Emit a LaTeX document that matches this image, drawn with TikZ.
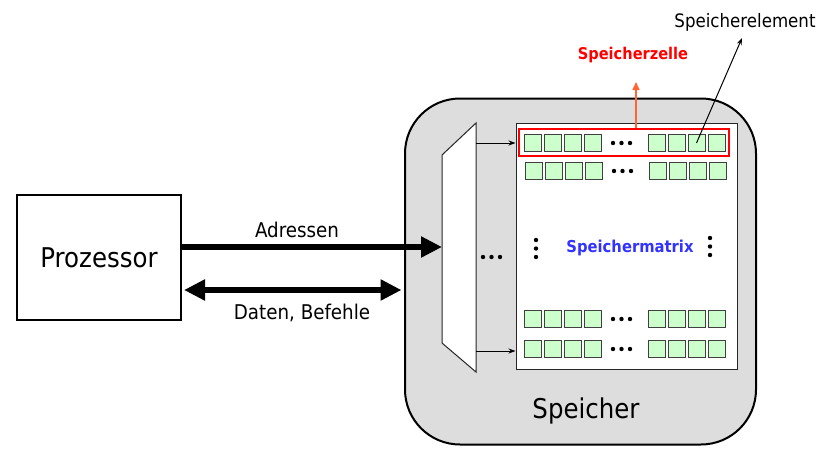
\documentclass[tikz,border=0pt]{standalone}
\usepackage{fontspec}
\setmainfont{DejaVu Sans}[FakeStretch=0.9]
\usetikzlibrary{arrows.meta,calc}
\definecolor{memgray}{HTML}{DDDDDD}
\definecolor{cellgreen}{HTML}{CCFFCC}
\definecolor{celledge}{HTML}{404040}
\definecolor{zellred}{HTML}{FF0000}
\definecolor{zellorange}{HTML}{FF6633}
\definecolor{matblue}{HTML}{3333FF}
\tikzset{bushead/.tip={Triangle[length=21pt,width=20pt]}}
\begin{document}
\begin{tikzpicture}[x=1pt,y=-1pt,
  cell/.style={draw=celledge,fill=cellgreen,line width=1pt,minimum width=17pt,minimum height=17pt,inner sep=0pt},
  bigtext/.style={font=\fontsize{27.2}{31}\selectfont},
  midtext/.style={font=\fontsize{20.3}{24}\selectfont},
  dotmark/.style={fill=black,draw=none,circle,minimum size=4.4pt,inner sep=0pt},
  busarrow/.style={line width=6pt},
  thinarrow/.style={line width=1pt,-{Stealth[length=7pt,width=5pt]}}
]
\useasboundingbox (0,0) rectangle (835,461);

% Processor
\node[draw,line width=2pt,minimum width=164pt,minimum height=125pt,inner sep=0pt,bigtext] (proc) at (99,257.5) {Prozessor};

% Memory
\node[draw,line width=2pt,fill=memgray,rounded corners=55pt,minimum width=351pt,minimum height=346pt,inner sep=0pt] (mem) at (580.5,271.5) {};
\node[bigtext] (memlbl) at (586,411) {Speicher};

% Multiplexer
\coordinate (m1) at (442,155);
\coordinate (m2) at (476,123);
\coordinate (m3) at (476,372);
\coordinate (m4) at (442,343);
\draw[fill=white,draw=black!85,line width=1pt] (m1)--(m2)--(m3)--(m4)--cycle;
\coordinate (muxin) at (442,247);
\node[dotmark] (md1) at (483,257) {};
\node[dotmark] (md2) at (491.5,257) {};
\node[dotmark] (md3) at (500,257) {};

% Matrix
\node[draw=black!85,fill=white,line width=1pt,minimum width=221pt,minimum height=246pt,inner sep=0pt] (matrix) at (626.5,246) {};
\node[text=matblue,font=\bfseries\fontsize{16.4}{19}\selectfont] (matlbl) at (630,248) {Speichermatrix};
\node[dotmark] (vl1) at (536,240) {};
\node[dotmark] (vl2) at (536,248.5) {};
\node[dotmark] (vl3) at (536,257) {};
\node[dotmark] (vr1) at (710,238) {};
\node[dotmark] (vr2) at (710,246.5) {};
\node[dotmark] (vr3) at (710,255) {};

% Cells
\foreach \r/\y/\dx in {1/143/0, 2/171/1, 3/319/0, 4/349/0} {
  \foreach \c/\x in {1/532.5, 2/552.5, 3/572.5, 4/592.5, 5/656.5, 6/676.5, 7/696.5, 8/716.5} {
    \node[cell] (c\r-\c) at (\x+\dx,\y) {};
  }
  \node[dotmark] (d\r a) at (613+\dx,\y) {};
  \node[dotmark] (d\r b) at (621.5+\dx,\y) {};
  \node[dotmark] (d\r c) at (630+\dx,\y) {};
}

% Speicherzelle highlight
\node[draw=zellred,line width=2pt,minimum width=210pt,minimum height=27pt,inner sep=0pt] (zelle) at (624,142.5) {};
\node[text=zellred,font=\bfseries\fontsize{16.2}{19}\selectfont] (zlbl) at (633,55) {Speicherzelle};
\coordinate (ztip) at (636,82);
\draw[zellorange,line width=1.5pt,-{Triangle[length=8pt,width=7pt]}] (zelle.north -| ztip) -- (ztip);

% Speicherelement
\node[font=\fontsize{18.5}{22}\selectfont] (elbl) at (745,22) {Speicherelement};
\coordinate (etip) at (742,38);
\draw[thinarrow] (c1-7.center) -- (etip);

% Mux to matrix arrows
\draw[thinarrow] (m2 |- c1-1) -- (matrix.west |- c1-1);
\draw[thinarrow] ($(m3)+(0,-21)$) -- (matrix.west |- 0,351);

% Buses
\draw[busarrow,-bushead] ($(proc.east)+(-1,-10.5)$) -- (muxin);
\draw[busarrow,bushead-bushead] ($(proc.east)+(2,32.5)$) -- ($(mem.west)+(-2.5,18.5)$);
\node[midtext] (alb) at (297,230) {Adressen};
\node[midtext] (dlb) at (302,313) {Daten, Befehle};
\end{tikzpicture}
\end{document}
